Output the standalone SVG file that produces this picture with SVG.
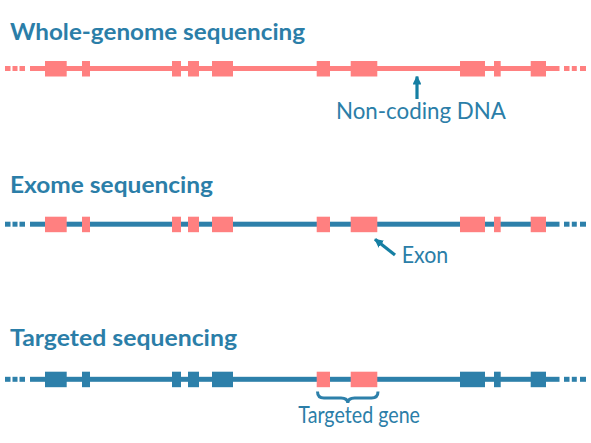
<svg xmlns="http://www.w3.org/2000/svg" width="591" height="443" viewBox="0 0 591 443">
<defs>
<style>
.title{font-family:Lato,"Open Sans","Liberation Sans",sans-serif;font-weight:700;font-size:23px;fill:#2b7ea8}
.label{font-family:Lato,"Open Sans","Liberation Sans",sans-serif;font-weight:400;font-size:23px;fill:#2b7ea8}
.pink{fill:#ff8080}
.blue{fill:#2d80aa}
.arrow{stroke:#157fa3;stroke-width:3.2;fill:none}
</style>
<marker id="ah" viewBox="0 0 10 10" refX="9" refY="5" markerWidth="2.8" markerHeight="2.8" markerUnits="strokeWidth" orient="auto">
<path d="M0,0 L10,5 L0,10 Z" fill="#157fa3"/>
</marker>
<g id="track-dots">
<rect x="5" y="-2.5" width="5.5" height="5"/>
<rect x="12.5" y="-2.5" width="5" height="5"/>
<rect x="19.5" y="-2.5" width="5.5" height="5"/>
<rect x="30" y="-2.5" width="529.5" height="5"/>
<rect x="564" y="-2.5" width="5.5" height="5"/>
<rect x="571.8" y="-2.5" width="5" height="5"/>
<rect x="580" y="-2.5" width="6" height="5"/>
</g>
</defs>

<g id="row-whole-genome">
<text class="title" x="10" y="40" textLength="295" lengthAdjust="spacingAndGlyphs">Whole-genome sequencing</text>
<use href="#track-dots" transform="translate(0,68.5)" class="pink"/>
<g class="pink">
<rect x="45" y="61" width="21.7" height="15.5"/>
<rect x="82" y="61" width="8" height="15.5"/>
<rect x="172" y="61" width="9" height="15.5"/>
<rect x="188" y="61" width="11" height="15.5"/>
<rect x="212" y="61" width="21" height="15.5"/>
<rect x="316.7" y="61" width="13.3" height="15.5"/>
<rect x="350.7" y="61" width="26.6" height="15.5"/>
<rect x="460" y="61" width="25" height="15.5"/>
<rect x="494" y="61" width="6.7" height="15.5"/>
<rect x="530.7" y="61" width="15.3" height="15.5"/>
</g>
<text class="label" x="336" y="119.3" textLength="170" lengthAdjust="spacingAndGlyphs">Non-coding DNA</text>
</g>

<g id="row-exome">
<text class="title" x="10" y="193" textLength="203" lengthAdjust="spacingAndGlyphs">Exome sequencing</text>
<use href="#track-dots" transform="translate(0,224.2)" class="blue"/>
<g class="pink">
<rect x="45" y="216.7" width="21.7" height="15.5"/>
<rect x="82" y="216.7" width="8" height="15.5"/>
<rect x="172" y="216.7" width="9" height="15.5"/>
<rect x="188" y="216.7" width="11" height="15.5"/>
<rect x="212" y="216.7" width="21" height="15.5"/>
<rect x="316.7" y="216.7" width="13.3" height="15.5"/>
<rect x="350.7" y="216.7" width="26.6" height="15.5"/>
<rect x="460" y="216.7" width="25" height="15.5"/>
<rect x="494" y="216.7" width="6.7" height="15.5"/>
<rect x="530.7" y="216.7" width="15.3" height="15.5"/>
</g>
<text class="label" x="401.7" y="263.3" textLength="46.6" lengthAdjust="spacingAndGlyphs">Exon</text>
</g>

<g id="row-targeted">
<text class="title" x="10" y="346" textLength="227" lengthAdjust="spacingAndGlyphs">Targeted sequencing</text>
<use href="#track-dots" transform="translate(0,379.3)" class="blue"/>
<g class="blue">
<rect x="45" y="371.7" width="21.7" height="15.5"/>
<rect x="82" y="371.7" width="8" height="15.5"/>
<rect x="172" y="371.7" width="9" height="15.5"/>
<rect x="188" y="371.7" width="11" height="15.5"/>
<rect x="212" y="371.7" width="21" height="15.5"/>
<rect x="460" y="371.7" width="25" height="15.5"/>
<rect x="494" y="371.7" width="6.7" height="15.5"/>
<rect x="530.7" y="371.7" width="15.3" height="15.5"/>
</g>
<g class="pink">
<rect x="316.7" y="371.7" width="13.3" height="15.5"/>
<rect x="350.7" y="371.7" width="26.6" height="15.5"/>
</g>
<text class="label" x="298.3" y="423.3" textLength="121.7" lengthAdjust="spacingAndGlyphs">Targeted gene</text>
</g>

<g id="connectors">
<line class="arrow" x1="417" y1="99" x2="417" y2="76.5" marker-end="url(#ah)"/>
<line class="arrow" x1="395" y1="255" x2="375" y2="239.2" marker-end="url(#ah)"/>
<path d="M317.5,391.5 Q317.5,398 324,398 L341,398 Q347.5,398 347.8,403 Q348.1,398 354.6,398 L371.5,398 Q378,398 378,391.5" stroke="#2d80aa" stroke-width="3" fill="none"/>
</g>
</svg>
